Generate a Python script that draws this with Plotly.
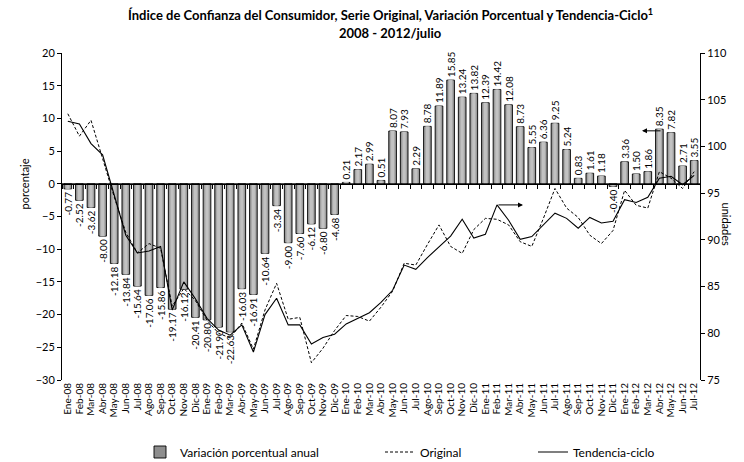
import plotly.graph_objects as go

meses = ["Ene", "Feb", "Mar", "Abr", "May", "Jun", "Jul", "Ago", "Sep", "Oct", "Nov", "Dic"]
etiquetas = [f"{m}-{a:02d}" for a in range(8, 13) for m in meses][:55]

variacion = [-0.77, -2.52, -3.62, -8.00, -12.18, -13.84, -15.64, -17.06, -15.86, -19.17, -16.12, -20.41,
             -20.80, -21.90, -22.63, -16.03, -16.91, -10.64, -3.34, -9.00, -7.60, -6.12, -6.80, -4.68,
             0.21, 2.17, 2.99, 0.51, 8.07, 7.93, 2.29, 8.78, 11.89, 15.85, 13.24, 13.82,
             12.39, 14.42, 12.08, 8.73, 5.55, 6.36, 9.25, 5.24, 0.83, 1.61, 1.18, -0.40,
             3.36, 1.50, 1.86, 8.35, 7.82, 2.71, 3.55]

original = [103.5, 101.1, 102.8, 98.7, 94.6, 90.8, 88.6, 89.6, 89.1, 82.9, 84.8, 83.5,
            81.4, 80.0, 79.5, 81.1, 78.3, 82.5, 85.35, 81.5, 81.7, 76.85, 78.4, 80.3,
            81.9, 81.8, 81.3, 82.8, 84.5, 87.5, 87.3, 89.5, 91.6, 89.3, 88.55, 91.1,
            92.3, 92.2, 91.6, 89.8, 89.3, 92.3, 95.5, 93.4, 92.4, 90.5, 89.6, 91.0,
            95.3, 93.7, 93.4, 97.3, 96.6, 95.5, 97.3]

tendencia = [102.7, 102.4, 100.3, 99.1, 94.8, 90.5, 88.6, 88.8, 89.3, 82.5, 85.5, 83.7,
             81.6, 80.35, 79.8, 80.9, 78.0, 82.0, 83.75, 80.9, 80.9, 78.85, 79.55, 79.9,
             81.0, 81.6, 82.2, 83.3, 84.6, 87.3, 86.85, 88.1, 89.3, 90.4, 92.2, 90.2,
             90.6, 93.74, 92.1, 90.06, 90.35, 91.6, 92.85, 92.3, 91.24, 92.4, 91.8, 92.0,
             94.3, 94.0, 94.55, 96.6, 96.8, 95.9, 96.9]

idx = list(range(len(etiquetas)))
limites = [i - 0.5 for i in range(len(etiquetas) + 1)]
FONT = "Lato, Carlito, Liberation Sans, Arial"

fig = go.Figure()

# zero line with category boundary ticks
fig.add_trace(go.Scatter(x=[limites[0], limites[-1]], y=[0, 0], mode="lines",
                         line=dict(color="black", width=1), xaxis="x2", yaxis="y",
                         showlegend=False, hoverinfo="skip"))

fig.add_trace(go.Bar(x=idx, y=variacion, name="Variación porcentual anual",
                     marker=dict(color="#8e8e8e", line=dict(color="black", width=0.9)),
                     width=0.66, text=[f"{v:.2f}" for v in variacion], textposition="outside",
                     textangle=-90, textfont=dict(size=10, color="black", family=FONT),
                     constraintext="none", cliponaxis=False, legend="legend"))
# cylinder-like shading of the same bars
for w, c in [(0.46, "#a9a9a9"), (0.26, "#c2c2c2")]:
    fig.add_trace(go.Bar(x=idx, y=variacion, width=w, marker=dict(color=c, line=dict(width=0)),
                         showlegend=False, hoverinfo="skip"))

fig.add_trace(go.Scatter(x=idx, y=original, name="Original", mode="lines", yaxis="y2",
                         line=dict(color="black", width=1, dash="3px,2px"), legend="legend2"))
fig.add_trace(go.Scatter(x=idx, y=tendencia, name="Tendencia-ciclo", mode="lines", yaxis="y2",
                         line=dict(color="black", width=1.1), legend="legend3"))

axis_common = dict(showgrid=False, zeroline=False, showline=True, linecolor="black", linewidth=1,
                   ticks="outside", ticklen=4, tickcolor="black", tickfont=dict(size=11, family=FONT, color="black"))

PW, PH, L, T = 638, 327, 62, 53
px = lambda x: (x - L) / PW
py = lambda y: 1 - (y - T) / PH
leg = dict(orientation="h", xref="container", yref="container", y=1 - 452 / 462,
           xanchor="left", yanchor="middle", font=dict(size=12, family=FONT), bgcolor="rgba(0,0,0,0)")

fig.update_layout(
    width=744, height=462,
    margin=dict(l=L, r=744 - L - PW, t=T, b=462 - T - PH),
    paper_bgcolor="white", plot_bgcolor="white",
    font=dict(family=FONT, color="black"),
    barmode="overlay",
    xaxis=dict(range=[limites[0], limites[-1]], tickmode="array", tickvals=idx, ticktext=etiquetas,
               tickangle=-90, ticks="", showline=False, showgrid=False, zeroline=False,
               tickfont=dict(size=10, family=FONT, color="black")),
    xaxis2=dict(range=[limites[0], limites[-1]], overlaying="x", anchor="free", position=0.6,
                tickmode="array", tickvals=limites, ticks="outside", ticklen=4, tickcolor="black",
                showticklabels=False, showline=True, linecolor="black", showgrid=False, zeroline=False),
    yaxis=dict(range=[-30, 20], dtick=5, **axis_common),
    yaxis2=dict(range=[75, 110], dtick=5, overlaying="y", side="right", **axis_common),
    legend=dict(leg, x=140 / 744),
    legend2=dict(leg, x=380 / 744),
    legend3=dict(leg, x=533 / 744),
    annotations=[
        dict(text="<b>Índice de Confianza del Consumidor, Serie Original, Variación Porcentual y Tendencia-Ciclo<sup>1</sup></b>",
             xref="paper", yref="paper", x=px(390), y=py(15), yanchor="middle", showarrow=False,
             font=dict(size=13, family=FONT)),
        dict(text="<b>2008 - 2012/julio</b>", xref="paper", yref="paper", x=px(390), y=py(33),
             yanchor="middle", showarrow=False, font=dict(size=13, family=FONT)),
        dict(text="porcentaje", xref="paper", yref="paper", x=px(15), y=py(184),
             textangle=-90, showarrow=False, font=dict(size=11, family=FONT)),
        dict(text="unidades", xref="paper", yref="paper", x=px(735), y=py(225),
             textangle=90, showarrow=False, font=dict(size=11, family=FONT)),
        dict(text="", x=idx[37] + 2.24, y=tendencia[37], xref="x", yref="y2", ax=-26, ay=0,
             showarrow=True, arrowhead=2, arrowsize=1, arrowwidth=1, arrowcolor="black"),
        dict(text="", x=idx[51] - 1.5, y=variacion[51] - 0.25, xref="x", yref="y", ax=20, ay=0,
             showarrow=True, arrowhead=2, arrowsize=1, arrowwidth=1, arrowcolor="black"),
    ],
)

fig.write_html("out.html", config={"displayModeBar": False},
               post_script="document.body.style.margin='0';")
